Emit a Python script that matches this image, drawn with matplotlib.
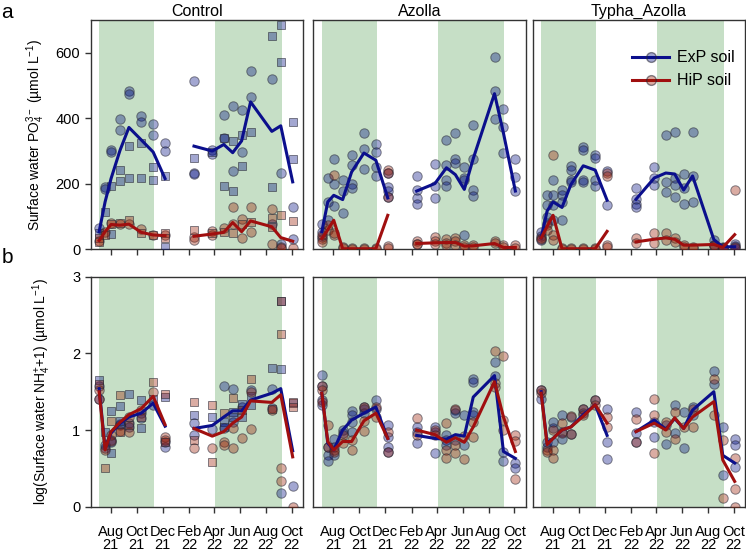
import datetime as dt
import matplotlib
matplotlib.use("Agg")
import matplotlib.pyplot as plt
import matplotlib.dates as mdates
from matplotlib.lines import Line2D

plt.rcParams["font.family"] = ["Liberation Sans", "DejaVu Sans"]
plt.rcParams["mathtext.fontset"] = "custom"
plt.rcParams["mathtext.rm"] = "Liberation Sans"
plt.rcParams["mathtext.it"] = "Liberation Sans:italic"

# sampling dates (first 8 = 2021 season, last 9 = 2022 season)
date_str = ["2021-07-05", "2021-07-19", "2021-08-02", "2021-08-23", "2021-09-13",
            "2021-10-12", "2021-11-09", "2021-12-07",
            "2022-02-13", "2022-03-28", "2022-04-24", "2022-05-15", "2022-06-05",
            "2022-06-26", "2022-08-15", "2022-09-05", "2022-10-03"]
green_spans = [("2021-07-05", "2021-11-12"), ("2022-04-04", "2022-09-07")]
panels = ["Control", "Azolla", "Typha_Azolla"]

# ---- PO4 (panel a) ----
ctrl_po4_exp_line = [54, 145, 216, 302, 372, 334, 297, 216, 315, 300, 320, 295, 331, 450, 360, 377, 206]
ctrl_po4_hip_line = [27, 54, 76, 74, 77, 52, 44, 42, 40, 47, 52, 82, 54, 87, 69, 36, 25]
azo_po4_exp_line = [54, 145, 165, 152, 236, 294, 272, 157, 178, 201, 249, 228, 183, 277, 475, 355, 178]
azo_po4_hip_line = [33, 60, 89, 2, 2, 2, 2, 104, 18, 20, 21, 21, 10, 11, 18, 6, 6]
typ_po4_exp_line = [35, 117, 145, 128, 198, 255, 242, 150, 153, 218, 233, 230, 181, 224, 30, 8, 8]
typ_po4_hip_line = [35, 70, 104, 2, 2, 2, 2, 55, 23, 31, 35, 31, 13, 13, 15, 6, 45]

ctrl_po4_exp_c = [[64], [189, 184], [302, 297], [397, 363], [482, 475], [407, 389], [381, 348], [325, 299],
                  [513, 233, 229], [302, 292], [409, 341], [437, 239], [426, 297], [544, 465], [521, 79],
                  [234, 18], [130, 31]]
ctrl_po4_exp_s = [[49], [115], [194, 47], [242, 209], [315, 219], [326, 218], [250, 213], [224, 8],
                  [280], [297], [341, 193], [331, 178], [348, 255], [358], [651, 191], [683, 572], [389, 275]]
ctrl_po4_hip_c = [[27], [54], [82], [76], [79], [61], [44], [44],
                  [38, 28], [56, 44], [64], [130, 76], [92, 35], [128, 52], [123, 18], [8, 3], [5]]
ctrl_po4_hip_s = [[35, 23], [44], [76], [82], [89], [49], [44], [49, 36],
                  [59], [50], [54], [51], [79], [84], [97, 69], [104], [88]]
azo_po4_exp_c = [[76, 54, 38], [219, 145, 89], [277, 201, 133], [211, 179, 110], [289, 257, 201, 188],
                 [355, 305, 245], [320, 297, 250, 223], [234, 191, 179, 160],
                 [223, 181, 157, 140], [260, 193, 158], [333, 257, 211, 194], [356, 277, 265],
                 [252, 219, 211, 43], [379, 275, 181, 162], [587, 483, 399], [427, 374, 295], [277, 221, 178]]
azo_po4_hip_c = [[33, 23, 43], [59, 74], [226, 43, 49], [8, 3], [5, 2], [4, 2], [3, 2], [241, 234, 160, 10, 5],
                 [26, 15, 18], [38, 27, 15], [33, 21, 13], [35, 26, 13], [13, 8], [13, 6], [26, 20], [13, 6], [13, 5]]
typ_po4_exp_c = [[52, 40, 28], [165, 135, 99, 81], [211, 165, 135, 89], [181, 165, 145, 89],
                 [255, 242, 211, 206], [313, 302, 211, 206], [289, 279, 211, 194], [239, 135],
                 [186, 153, 140, 130], [252, 218, 196], [348, 206, 176], [358, 218, 196, 160],
                 [231, 186, 140], [358, 145, 223], [30, 13], [8, 5], [15, 10, 5]]
typ_po4_hip_c = [[35, 31], [75, 60], [289, 43, 30], [5, 2], [4, 2], [3, 2], [3, 2], [232, 224, 13, 6],
                 [34, 21], [49, 21], [49, 30], [34, 24], [13, 8], [8, 5], [13, 10], [5, 3], [180, 8]]

# ---- log(NH4+1) (panel b) ----
ctrl_nh4_exp_line = [1.54, 0.76, 0.96, 1.09, 1.17, 1.22, 1.35, 1.05,
                     1.02, 1.06, 1.17, 1.25, 1.25, 1.39, 1.48, 1.54, 0.73]
ctrl_nh4_hip_line = [1.50, 0.74, 0.98, 1.10, 1.20, 1.28, 1.44, 1.07,
                     1.02, 0.92, 0.98, 1.09, 1.17, 1.38, 1.36, 1.46, 0.65]
azo_nh4_exp_line = [1.48, 0.83, 0.74, 1.00, 1.13, 1.22, 1.30, 0.89,
                    0.93, 0.89, 0.88, 0.94, 0.92, 1.43, 1.71, 0.72, 0.63]
azo_nh4_hip_line = [1.48, 0.85, 0.74, 0.85, 0.85, 1.12, 1.22, 0.89,
                    1.00, 0.94, 0.84, 0.90, 0.84, 1.04, 1.63, 1.17, 0.72]
typ_nh4_exp_line = [1.50, 0.83, 0.89, 1.00, 1.04, 1.20, 1.33, 0.93,
                    0.98, 1.13, 1.01, 1.15, 1.02, 1.26, 1.50, 0.67, 0.57]
typ_nh4_hip_line = [1.48, 0.81, 0.89, 1.00, 1.04, 1.18, 1.33, 1.09,
                    0.98, 1.09, 1.00, 1.16, 1.02, 1.17, 1.37, 0.61, 0.33]

ctrl_nh4_exp_c = [[1.57, 1.41], [0.80, 0.76], [0.84, 0.87], [1.06, 1.08], [1.09, 1.04], [1.16, 1.22], [1.33],
                  [0.78, 0.85], [1.09, 0.94], [1.01], [1.57, 1.02], [1.53, 1.10], [1.30], [1.52],
                  [1.53, 1.29], [0.18], [0.27]]
ctrl_nh4_exp_s = [[1.65], [0.97], [1.25, 0.70], [1.31, 1.12], [1.47], [1.39, 1.03], [1.40], [1.43],
                  [1.20], [1.17], [1.11, 1.04], [1.24, 1.17], [1.34, 1.17], [1.44, 1.33], [1.81],
                  [2.68, 1.79], [1.35]]
ctrl_nh4_hip_c = [[1.52, 1.41], [0.74], [0.94, 0.86], [0.99], [1.17, 0.98], [1.26], [1.50], [0.91, 0.87],
                  [0.77], [0.76], [0.85, 0.81], [0.77, 1.02], [0.89], [1.50, 1.01], [1.26], [0.51, 0.34], [0.0]]
ctrl_nh4_hip_s = [[1.60], [0.51], [1.12], [1.46, 0.97], [1.06], [1.17], [1.62], [1.47, 0.85],
                  [1.37, 0.87], [1.33, 0.58], [1.22], [1.42], [1.26], [1.66], [1.28], [2.68, 2.25], [1.37, 1.30]]
azo_nh4_exp_c = [[1.72, 1.57, 1.33, 1.39], [0.78, 0.67, 0.60], [0.88, 0.78, 0.67], [1.00, 0.96],
                 [1.25, 1.20, 1.10, 0.98], [1.30, 1.27, 1.22], [1.39, 1.28], [1.07, 0.91, 0.78, 0.72],
                 [1.04, 0.98, 0.83], [1.04, 0.98, 0.70], [0.93, 0.87, 0.80], [1.26, 1.22, 0.87],
                 [1.20, 0.80], [1.67, 1.63, 1.24, 1.20], [1.89, 1.70], [0.72, 0.59], [0.57, 0.51]]
azo_nh4_hip_c = [[1.57, 1.52, 1.37], [1.07, 0.78], [0.74, 0.71], [0.94, 0.83], [0.87, 0.74],
                 [1.30, 1.12, 0.99], [1.30, 1.17], [0.98, 0.72],
                 [1.16, 0.93], [1.00, 0.94], [1.09, 0.74, 0.64], [1.28, 0.81, 0.70], [0.62, 0.92],
                 [0.91, 1.10], [2.03, 1.61, 1.56], [1.96, 1.13, 1.00], [0.94, 0.86, 0.36]]
typ_nh4_exp_c = [[1.52, 1.41], [0.85, 0.78], [1.10, 1.02, 0.84], [1.20, 0.98, 0.88], [1.17, 0.95],
                 [1.27, 1.22], [1.39], [1.27, 0.85, 0.62],
                 [1.24, 0.96, 0.84], [0.91, 1.10], [1.07, 0.82], [1.33, 0.96], [1.23, 0.76],
                 [1.30, 1.20], [1.77, 1.60], [1.04, 0.41], [0.88, 0.80, 0.52]]
typ_nh4_hip_c = [[1.48, 1.52], [0.74, 0.72], [1.00, 0.74, 0.64], [1.09, 0.96], [1.18, 0.95],
                 [1.27, 1.20], [1.39, 1.33], [1.17, 1.04],
                 [1.14, 0.84], [1.40, 1.20, 0.70], [1.11, 0.98], [1.23, 0.88], [1.04],
                 [1.27, 1.04], [1.67, 1.20], [0.87, 0.11], [0.64, 0.23, 0.0]]

# STYLE
BLUE_LINE = "#0b0f8c"
RED_LINE = "#a00f0f"
BLUE_FACE = (0.0, 0.05, 0.5, 0.36)
RED_FACE = (0.6, 0.1, 0.0, 0.36)
EDGE = (0.15, 0.15, 0.2, 0.55)
SPINE = "#333333"

dates = [dt.datetime.strptime(s, "%Y-%m-%d") for s in date_str]
n21 = 8


def scatter_pts(ax, vals, face, marker, size):
    xs, ys = [], []
    for d, vs in zip(dates, vals):
        for v in vs:
            xs.append(d)
            ys.append(v)
    ax.scatter(xs, ys, s=size, marker=marker, facecolors=[face], edgecolors=[EDGE],
               linewidths=0.7, zorder=3)


def draw_line(ax, vals, color):
    ax.plot(dates[:n21], vals[:n21], color=color, lw=2.2, zorder=4)
    ax.plot(dates[n21:], vals[n21:], color=color, lw=2.2, zorder=4)


fig = plt.figure(figsize=(7.46, 5.53), dpi=100)
lefts = [0.1215, 0.420, 0.714]
width = 0.2845
rows = [(0.549, 0.415), (0.0837, 0.416)]

point_sets = {
    (0, 0): [(ctrl_po4_exp_c, BLUE_FACE, "o"), (ctrl_po4_exp_s, BLUE_FACE, "s"),
             (ctrl_po4_hip_c, RED_FACE, "o"), (ctrl_po4_hip_s, RED_FACE, "s")],
    (0, 1): [(azo_po4_exp_c, BLUE_FACE, "o"), (azo_po4_hip_c, RED_FACE, "o")],
    (0, 2): [(typ_po4_exp_c, BLUE_FACE, "o"), (typ_po4_hip_c, RED_FACE, "o")],
    (1, 0): [(ctrl_nh4_exp_c, BLUE_FACE, "o"), (ctrl_nh4_exp_s, BLUE_FACE, "s"),
             (ctrl_nh4_hip_c, RED_FACE, "o"), (ctrl_nh4_hip_s, RED_FACE, "s")],
    (1, 1): [(azo_nh4_exp_c, BLUE_FACE, "o"), (azo_nh4_hip_c, RED_FACE, "o")],
    (1, 2): [(typ_nh4_exp_c, BLUE_FACE, "o"), (typ_nh4_hip_c, RED_FACE, "o")],
}
line_sets = {
    (0, 0): (ctrl_po4_exp_line, ctrl_po4_hip_line),
    (0, 1): (azo_po4_exp_line, azo_po4_hip_line),
    (0, 2): (typ_po4_exp_line, typ_po4_hip_line),
    (1, 0): (ctrl_nh4_exp_line, ctrl_nh4_hip_line),
    (1, 1): (azo_nh4_exp_line, azo_nh4_hip_line),
    (1, 2): (typ_nh4_exp_line, typ_nh4_hip_line),
}

axes = {}
for r, (bottom, height) in enumerate(rows):
    for c, left in enumerate(lefts):
        ax = fig.add_axes([left, bottom, width, height])
        axes[(r, c)] = ax
        for g0, g1 in green_spans:
            ax.axvspan(dt.datetime.strptime(g0, "%Y-%m-%d"), dt.datetime.strptime(g1, "%Y-%m-%d"),
                       color="#c6dfc6", lw=0, zorder=0)
        for vals, face, mk in point_sets[(r, c)]:
            scatter_pts(ax, vals, face, mk, 46 if mk == "o" else 40)
        exp_line, hip_line = line_sets[(r, c)]
        draw_line(ax, exp_line, BLUE_LINE)
        draw_line(ax, hip_line, RED_LINE)

        ax.set_xlim(dt.datetime(2021, 6, 15), dt.datetime(2022, 10, 27))
        ax.xaxis.set_major_locator(mdates.MonthLocator(bymonth=[2, 4, 6, 8, 10, 12]))
        ax.xaxis.set_major_formatter(mdates.DateFormatter("%b\n%y"))
        for sp in ax.spines.values():
            sp.set_color(SPINE)
            sp.set_linewidth(1.0)
        ax.tick_params(axis="both", direction="out", length=4, width=1, color=SPINE,
                       labelsize=10.5)
        ax.tick_params(axis="x", pad=9, labelsize=10.5)
        if r == 0:
            ax.set_ylim(0, 700)
            ax.set_yticks([0, 200, 400, 600])
            ax.tick_params(axis="x", labelbottom=False)
            ax.set_title(panels[c], fontsize=11.5, pad=3)
        else:
            ax.set_ylim(0, 3)
            ax.set_yticks([0, 1, 2, 3])
            for lab in ax.get_xticklabels():
                lab.set_linespacing(0.9)
        if c != 0:
            ax.tick_params(axis="y", left=False, labelleft=False)

axes[(0, 0)].set_ylabel("Surface water PO$_4^{3-}$ (µmol L$^{-1}$)", fontsize=10, labelpad=6)
axes[(1, 0)].set_ylabel("log(Surface water NH$_4^{+}$+1) (µmol L$^{-1}$)", fontsize=10, labelpad=14)

handles = [
    Line2D([0], [0], color=BLUE_LINE, lw=2.2, marker="o", markersize=7,
           markerfacecolor=BLUE_FACE, markeredgecolor=EDGE),
    Line2D([0], [0], color=RED_LINE, lw=2.2, marker="o", markersize=7,
           markerfacecolor=RED_FACE, markeredgecolor=EDGE),
]
axes[(0, 2)].legend(handles, ["ExP soil", "HiP soil"], loc="upper right",
                    bbox_to_anchor=(1.02, 0.93), frameon=False, fontsize=11.5,
                    handlelength=2.3, handletextpad=0.5, labelspacing=0.5)

fig.text(0.002, 0.978, "a", fontsize=15, va="center", ha="left")
fig.text(0.002, 0.535, "b", fontsize=15, va="center", ha="left")

fig.savefig("out.png", dpi=100)
